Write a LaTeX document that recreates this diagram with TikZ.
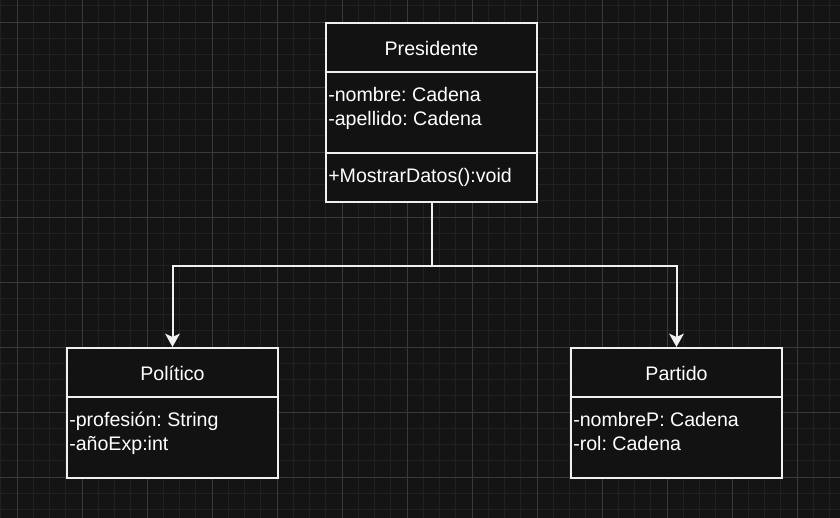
\documentclass[tikz,border=0pt]{standalone}
\usepackage{fontspec}
\setmainfont{Liberation Sans}
\usetikzlibrary{arrows.meta}
\definecolor{bgc}{HTML}{141414}
\definecolor{boxc}{HTML}{121212}
\definecolor{minorc}{HTML}{212121}
\definecolor{majorc}{HTML}{3A3A3A}
\definecolor{linec}{HTML}{F0F0F0}
\frenchspacing
\tikzset{
  umlbox/.style={draw=linec, line width=1.5pt, fill=boxc, rectangle, inner sep=0pt, minimum width=158.25pt, text=white},
  divider/.style={draw=linec, line width=1.5pt},
  title/.style={anchor=base, inner sep=0pt, text=white, font=\fontsize{14.7pt}{17pt}\selectfont},
  member/.style={anchor=base west, inner sep=0pt, text=white, font=\fontsize{14.7pt}{17pt}\selectfont},
  link/.style={draw=linec, line width=1.5pt, -{Stealth[length=10pt,width=11pt,inset=2.5pt]}},
}
\begin{document}
\begin{tikzpicture}[x=0.75pt,y=-0.75pt]
\useasboundingbox (0,0) rectangle (840,518);
\fill[bgc] (0,0) rectangle (840,518);
% grid
\foreach \i in {0,...,52} {
  \pgfmathsetmacro{\gx}{0.75+16.25*\i}
  \draw[minorc, line width=0.6pt] (\gx,0) -- (\gx,518);
}
\foreach \i in {0,...,32} {
  \pgfmathsetmacro{\gy}{5.75+16.25*\i}
  \draw[minorc, line width=0.6pt] (0,\gy) -- (840,\gy);
}
\foreach \i in {0,...,13} {
  \pgfmathsetmacro{\gx}{17+65*\i}
  \draw[majorc, line width=0.75pt] (\gx,0) -- (\gx,518);
}
\foreach \i in {0,...,7} {
  \pgfmathsetmacro{\gy}{22+65*\i}
  \draw[majorc, line width=0.75pt] (0,\gy) -- (840,\gy);
}
% boxes
\node[umlbox, minimum height=134.25pt] (pres) at (431.5,112.5) {};
\node[umlbox, minimum height=97.5pt] (pol) at (172.5,413) {};
\node[umlbox, minimum height=97.5pt] (par) at (676.5,413) {};
% dividers
\draw[divider] (326,72) -- (537,72);
\draw[divider] (326,153) -- (537,153);
\draw[divider] (67,397) -- (278,397);
\draw[divider] (571,397) -- (782,397);
% texts
\node[title] (presT) at (431.5,55) {Presidente};
\node[member] (presA1) at (328,101) {-nombre: Cadena};
\node[member] (presA2) at (328,125) {-apellido: Cadena};
\node[member] (presM1) at (328,182) {+MostrarDatos():void};
\node[title] (polT) at (172.5,380) {Político};
\node[member] (polA1) at (69,426) {-profesión: String};
\node[member] (polA2) at (69,450) {-añoExp:int};
\node[title] (parT) at (676.5,380) {Partido};
\node[member] (parA1) at (573,426) {-nombreP: Cadena};
\node[member] (parA2) at (573,450) {-rol: Cadena};
% connectors
\coordinate (j) at (431.5,266);
\draw[link] (pres.south) -- (j) -| (pol.north);
\draw[link] (j) -| (par.north);
\end{tikzpicture}
\end{document}
